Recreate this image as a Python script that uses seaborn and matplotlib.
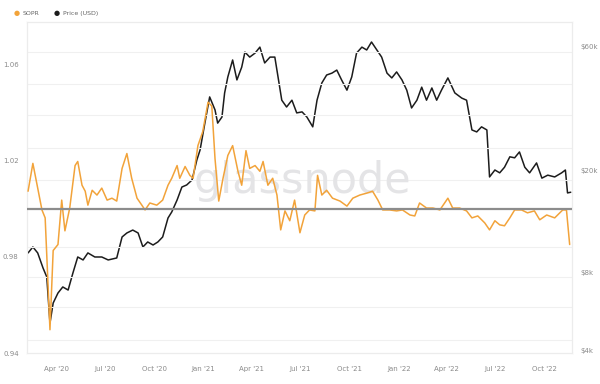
import matplotlib
matplotlib.use("Agg")
import matplotlib.pyplot as plt
import seaborn as sns
import pandas as pd

# ---------------- data ----------------
sopr_dates = ["2020-02-07","2020-02-16","2020-02-24","2020-03-04","2020-03-10","2020-03-19","2020-03-25",
    "2020-04-03","2020-04-10","2020-04-16","2020-04-25","2020-05-05","2020-05-10","2020-05-18","2020-05-24",
    "2020-05-29","2020-06-06","2020-06-15","2020-06-24","2020-07-04","2020-07-13","2020-07-22","2020-08-01",
    "2020-08-10","2020-08-19","2020-08-29","2020-09-07","2020-09-13","2020-09-22","2020-10-05","2020-10-16",
    "2020-10-26","2020-11-02","2020-11-12","2020-11-17","2020-11-27","2020-12-06","2020-12-12","2020-12-21",
    "2020-12-30","2021-01-09","2021-01-16","2021-01-22","2021-01-29","2021-02-06","2021-02-15","2021-02-24",
    "2021-03-06","2021-03-13","2021-03-21","2021-03-28","2021-04-07","2021-04-16","2021-04-22","2021-05-01",
    "2021-05-10","2021-05-18","2021-05-25","2021-06-02","2021-06-11","2021-06-20","2021-06-30","2021-07-09",
    "2021-07-18","2021-07-28","2021-08-02","2021-08-10","2021-08-19","2021-08-30","2021-09-13","2021-09-26",
    "2021-10-07","2021-10-20","2021-11-02","2021-11-13","2021-11-23","2021-12-02","2021-12-15","2021-12-28",
    "2022-01-08","2022-01-22","2022-01-31","2022-02-09","2022-02-22","2022-03-06","2022-03-19","2022-04-03",
    "2022-04-12","2022-04-25","2022-05-08","2022-05-18","2022-05-29","2022-06-11","2022-06-20","2022-06-30",
    "2022-07-09","2022-07-18","2022-07-28","2022-08-06","2022-08-19","2022-08-30","2022-09-12","2022-09-22",
    "2022-10-05","2022-10-20","2022-11-04","2022-11-11","2022-11-17"]
sopr_values = [1.0074,1.0190,1.0099,0.9996,0.9963,0.9497,0.9827,
    0.9852,1.0037,0.9909,1.0004,1.0181,1.0198,1.0099,1.0074,
    1.0016,1.0078,1.0058,1.0087,1.0037,1.0045,1.0033,1.0169,
    1.0231,1.0128,1.0045,1.0016,0.9996,1.0025,1.0016,1.0037,
    1.0099,1.0128,1.0181,1.0128,1.0177,1.0140,1.0128,1.0264,
    1.0322,1.0445,1.0429,1.0210,1.0033,1.0128,1.0223,1.0264,
    1.0157,1.0099,1.0243,1.0169,1.0181,1.0157,1.0198,1.0099,
    1.0128,1.0058,0.9913,0.9992,0.9951,1.0037,0.9901,0.9975,
    0.9996,0.9992,1.0140,1.0058,1.0078,1.0045,1.0033,1.0012,
    1.0045,1.0058,1.0066,1.0074,1.0037,0.9996,0.9996,0.9992,
    0.9996,0.9975,0.9971,1.0025,1.0004,1.0004,0.9996,1.0045,
    1.0004,1.0004,0.9992,0.9963,0.9971,0.9942,0.9913,0.9951,
    0.9934,0.9930,0.9963,0.9996,0.9996,0.9984,0.9992,0.9955,
    0.9975,0.9963,0.9996,0.9996,0.9852]

price_dates = ["2020-02-07","2020-02-16","2020-02-25","2020-03-06","2020-03-13","2020-03-19","2020-03-25",
    "2020-04-03","2020-04-12","2020-04-22","2020-05-01","2020-05-10","2020-05-20","2020-05-29","2020-06-11",
    "2020-06-24","2020-07-06","2020-07-22","2020-08-01","2020-08-10","2020-08-21","2020-08-31","2020-09-09",
    "2020-09-18","2020-09-28","2020-10-07","2020-10-16","2020-10-26","2020-11-02","2020-11-12","2020-11-21",
    "2020-11-30","2020-12-10","2020-12-19","2020-12-25","2021-01-03","2021-01-12","2021-01-22","2021-01-27",
    "2021-02-04","2021-02-09","2021-02-15","2021-02-24","2021-03-04","2021-03-13","2021-03-19","2021-03-28",
    "2021-04-07","2021-04-16","2021-04-25","2021-05-05","2021-05-14","2021-05-20","2021-05-27","2021-06-05",
    "2021-06-15","2021-06-24","2021-07-04","2021-07-13","2021-07-24","2021-08-01","2021-08-10","2021-08-19",
    "2021-08-29","2021-09-07","2021-09-16","2021-09-26","2021-10-05","2021-10-14","2021-10-24","2021-11-02",
    "2021-11-11","2021-11-21","2021-11-30","2021-12-10","2021-12-19","2021-12-28","2022-01-07","2022-01-16",
    "2022-01-25","2022-02-04","2022-02-13","2022-02-22","2022-03-04","2022-03-13","2022-03-22","2022-04-03",
    "2022-04-16","2022-04-29","2022-05-08","2022-05-18","2022-05-27","2022-06-05","2022-06-15","2022-06-20",
    "2022-06-30","2022-07-09","2022-07-18","2022-07-28","2022-08-06","2022-08-15","2022-08-25","2022-09-03",
    "2022-09-16","2022-09-26","2022-10-07","2022-10-20","2022-11-02","2022-11-09","2022-11-13","2022-11-19"]
price_values = [9540,10060,9540,8340,7700,5100,6100,
    6670,7040,6850,7980,9200,8960,9540,9200,
    9200,8960,9120,11000,11400,11700,11400,10060,
    10520,10240,10520,11000,13030,13750,15300,17180,
    17500,18300,21870,23900,30400,38400,34200,30400,
    32100,39800,45900,53400,44700,50100,57300,54800,
    56800,59900,52000,54800,54800,45900,37300,35100,
    37300,33300,33600,32100,29400,37300,43500,46700,
    47500,48800,44700,40800,45900,56800,59900,58400,
    62700,58400,54800,47500,45500,48000,44700,40800,
    34800,37300,41900,37300,41600,37300,40800,45500,
    39800,38000,37300,28600,28100,29400,28600,18800,
    20000,19500,20500,22500,22300,23500,20500,19500,
    21300,18600,19100,18800,19500,20000,16300,16400]

sopr_ticks = [1.06, 1.02, 0.98, 0.94]
price_ticks = [60000, 20000, 8000, 4000]
price_tick_labels = ["$60k", "$20k", "$8k", "$4k"]
x_tick_dates = ["2020-04-01","2020-07-01","2020-10-01","2021-01-01","2021-04-01","2021-07-01",
                "2021-10-01","2022-01-01","2022-04-01","2022-07-01","2022-10-01"]
x_tick_labels = ["Apr '20","Jul '20","Oct '20","Jan '21","Apr '21","Jul '21",
                 "Oct '21","Jan '22","Apr '22","Jul '22","Oct '22"]

sopr_df = pd.DataFrame({"date": pd.to_datetime(sopr_dates), "SOPR": sopr_values})
price_df = pd.DataFrame({"date": pd.to_datetime(price_dates), "Price": price_values})

# ---------------- style ----------------
sns.set_style("white")
plt.rcParams["font.family"] = ["DejaVu Sans"]

ORANGE = "#F2A33A"
BLACK = "#1c1c1c"
TICKC = "#8a8a8a"

fig = plt.figure(figsize=(6.0, 3.84), dpi=100)
ax = fig.add_axes([0.045, 0.0807, 0.908, 0.862])
ax2 = ax.twinx()

# faint horizontal grid (positions in axes fraction)
for yp in [52, 84, 115, 148, 180, 247, 277, 307, 340]:
    ax.plot([0, 1], [(353 - yp) / 331] * 2, transform=ax.transAxes,
            color="#f0f0f0", lw=0.8, zorder=0)

# watermark
ax.text(0.505, 0.52, "glassnode", transform=ax.transAxes, ha="center", va="center",
        fontsize=31, color="#e4e4e6", zorder=0.5, family="DejaVu Sans")

sns.lineplot(data=sopr_df, x="date", y="SOPR", ax=ax, color=ORANGE, lw=1.1, zorder=3)
ax.axhline(1.0, color="#8c8c8c", lw=1.6, zorder=4)
sns.lineplot(data=price_df, x="date", y="Price", ax=ax2, color=BLACK, lw=1.1, zorder=3)

ax.set_xlim(pd.Timestamp("2020-02-05"), pd.Timestamp("2022-11-21"))
ax.set_ylim(0.9414, 1.0779)
ax2.set_yscale("log")
ax2.set_ylim(3904, 74960)

ax.set_yticks(sopr_ticks)
ax.set_yticklabels([f"{t:.2f}" for t in sopr_ticks])
ax2.set_yticks(price_ticks)
ax2.set_yticklabels(price_tick_labels)
ax2.yaxis.set_minor_locator(matplotlib.ticker.NullLocator())
ax.set_xticks(pd.to_datetime(x_tick_dates))
ax.set_xticklabels(x_tick_labels)

for a in (ax, ax2):
    a.set_xlabel("")
    a.set_ylabel("")
    a.tick_params(length=0, labelsize=5, labelcolor=TICKC, pad=6)
    for s in a.spines.values():
        s.set_color("#ececec")
        s.set_linewidth(0.8)
ax.tick_params(axis="x", pad=9)
ax.set_zorder(ax2.get_zorder() + 1)
ax.patch.set_visible(False)

# legend
fig.text(0.027, 0.966, "\u25CF", color=ORANGE, fontsize=5, va="center", ha="center")
fig.text(0.037, 0.966, "SOPR", color="#666666", fontsize=4.5, va="center", ha="left")
fig.text(0.095, 0.966, "\u25CF", color=BLACK, fontsize=5, va="center", ha="center")
fig.text(0.105, 0.966, "Price (USD)", color="#666666", fontsize=4.5, va="center", ha="left")

fig.savefig("out.png", dpi=100, facecolor="white")
